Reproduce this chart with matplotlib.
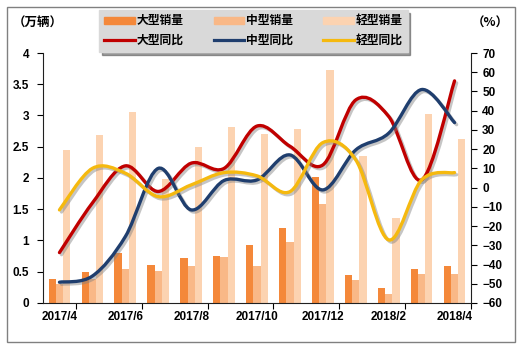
import numpy as np
import matplotlib
matplotlib.use("Agg")
import matplotlib.pyplot as plt
from matplotlib.path import Path
from matplotlib.patches import PathPatch, Patch, Rectangle
from matplotlib.lines import Line2D
import matplotlib.patheffects as pe

plt.rcParams['font.family'] = ['Liberation Sans', 'Noto Sans CJK SC', 'DejaVu Sans']

months = ["2017/4", "2017/5", "2017/6", "2017/7", "2017/8", "2017/9", "2017/10",
          "2017/11", "2017/12", "2018/1", "2018/2", "2018/3", "2018/4"]

# sales (10k units)
large_sales = [0.38, 0.50, 0.80, 0.61, 0.72, 0.75, 0.93, 1.20, 2.02, 0.45, 0.24, 0.54, 0.59]
medium_sales = [0.31, 0.39, 0.55, 0.51, 0.59, 0.73, 0.59, 0.97, 1.59, 0.36, 0.15, 0.46, 0.46]
light_sales = [2.44, 2.69, 3.05, 1.99, 2.50, 2.82, 2.71, 2.79, 3.73, 2.35, 1.36, 3.03, 2.62]

# year-on-year growth (%)
large_yoy = [-33.8, -8.0, 11.3, -2.0, 12.7, 10.0, 32.0, 21.5, 11.8, 45.6, 37.0, 4.0, 55.5]
medium_yoy = [-49.2, -46.0, -25.5, 10.0, -11.6, 3.7, 4.0, 17.0, -1.2, 19.6, 28.3, 51.0, 33.8]
light_yoy = [-11.6, 10.0, 7.5, -4.7, 1.4, 7.8, 6.1, -2.1, 23.4, 14.4, -27.2, 4.0, 7.8]

c_large, c_medium, c_light = "#F4883A", "#F9B887", "#FCD3B1"
c_red, c_blue, c_yellow = "#C00000", "#1F3E6E", "#F5B90F"


def smooth_path(x, y):
    # Excel-like smoothed line: bezier segments with catmull-rom control points
    pts = np.column_stack([x, y]).astype(float)
    n = len(pts)
    verts = [pts[0]]
    codes = [Path.MOVETO]
    for i in range(n - 1):
        p0 = pts[max(i - 1, 0)]
        p1 = pts[i]
        p2 = pts[i + 1]
        p3 = pts[min(i + 2, n - 1)]
        verts += [p1 + (p2 - p0) / 6, p2 - (p3 - p1) / 6, p2]
        codes += [Path.CURVE4] * 3
    return Path(verts, codes)


fig = plt.figure(figsize=(5.2, 3.51), dpi=100)
fig.patches.append(Rectangle((0.0135, 0.026), 0.977, 0.954, transform=fig.transFigure,
                             fill=False, edgecolor="#808080", linewidth=1.0))
ax = fig.add_axes([0.0827, 0.1368, 0.8231, 0.7122])
ax2 = ax.twinx()

x = np.arange(len(months))
w = 0.22
ax.bar(x - w, large_sales, w, color=c_large, zorder=2)
ax.bar(x, medium_sales, w, color=c_medium, zorder=2)
ax.bar(x + w, light_sales, w, color=c_light, zorder=2)

shadow = [pe.SimpleLineShadow(offset=(1.5, -1.5), shadow_color="gray", alpha=0.45), pe.Normal()]
for vals, col in [(large_yoy, c_red), (medium_yoy, c_blue), (light_yoy, c_yellow)]:
    patch = PathPatch(smooth_path(x, vals), fill=False, edgecolor=col, linewidth=2.4,
                      capstyle="round", joinstyle="round", zorder=3)
    patch.set_path_effects(shadow)
    ax2.add_patch(patch)

ax.set_xlim(-0.5, len(months) - 0.5)
ax.set_ylim(0, 4)
ax2.set_ylim(-60, 70)
ax.set_yticks(np.arange(0, 4.01, 0.5))
ax.set_yticklabels(["0", "0.5", "1", "1.5", "2", "2.5", "3", "3.5", "4"])
ax2.set_yticks(np.arange(-60, 71, 10))

ax.set_xticks(x[::2])
ax.set_xticklabels(months[::2])
ax.set_xticks(np.arange(0.5, len(months), 2), minor=True)
ax.tick_params(axis="x", which="major", length=0, pad=6)
ax.tick_params(axis="x", which="minor", length=4, width=0.8)
ax.tick_params(axis="y", length=4, width=0.8, pad=6)
ax2.tick_params(axis="y", length=4, width=0.8, pad=4)

for a in (ax, ax2):
    a.spines["top"].set_visible(False)
    for s in ("left", "right", "bottom"):
        a.spines[s].set_color("#202020")
        a.spines[s].set_linewidth(0.8)
    for lab in a.get_xticklabels() + a.get_yticklabels():
        lab.set_fontsize(8.5)
        lab.set_fontweight("bold")
ax.spines["right"].set_visible(False)
ax2.spines["left"].set_visible(False)
ax2.spines["bottom"].set_visible(False)

fig.text(0.025, 0.935, "（万辆）", fontsize=9, fontweight="bold", ha="left", va="center",
         family=['Noto Sans CJK SC', 'DejaVu Sans'])
fig.text(0.978, 0.935, "（%）", fontsize=9, fontweight="bold", ha="right", va="center",
         family=['Noto Sans CJK SC', 'DejaVu Sans'])

handles = [Patch(color=c_large), Line2D([], [], color=c_red, lw=2.3),
           Patch(color=c_medium), Line2D([], [], color=c_blue, lw=2.3),
           Patch(color=c_light), Line2D([], [], color=c_yellow, lw=2.3)]
labels = ["大型销量", "大型同比", "中型销量", "中型同比", "轻型销量", "轻型同比"]
leg = fig.legend(handles, labels, ncol=3, loc="center", bbox_to_anchor=(0.487, 0.912),
                 fontsize=8.5, frameon=True, facecolor="#D9D9D9", edgecolor="#D9D9D9",
                 fancybox=False, shadow=True, handlelength=2.6, handleheight=0.5,
                 columnspacing=2.6, labelspacing=0.6, borderpad=0.45, handletextpad=0.1)
leg.get_frame().set_alpha(1)
for t in leg.get_texts():
    t.set_fontweight("bold")

fig.savefig("out.png", dpi=100)
